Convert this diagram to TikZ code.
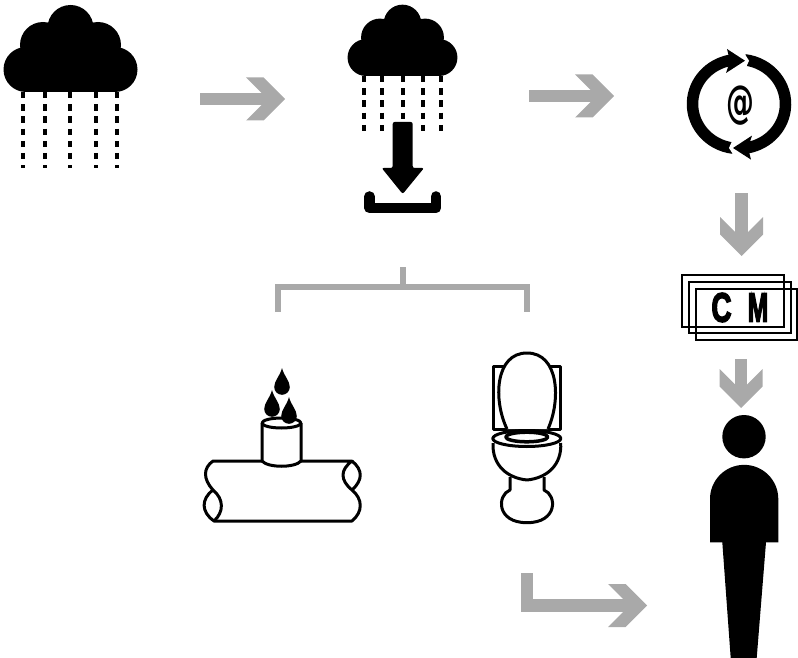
\documentclass[tikz,border=0pt]{standalone}
\usepackage{fontspec}
\usetikzlibrary{arrows.meta, positioning, calc}
\newfontfamily\cmfont[UprightFont=* Bold,FakeBold=4]{Liberation Sans}
\newfontfamily\atfont[UprightFont=* Bold]{DejaVu Sans}
\definecolor{kgrey}{HTML}{A9A9A9}
\definecolor{kblack}{HTML}{000000}
\pgfdeclarearrow{
  name=Chevron,
  setup code={
    \pgfarrowssettipend{0pt}
    \pgfarrowssetlineend{-15pt}
    \pgfarrowssetvisualbackend{-17pt}
    \pgfarrowssetbackend{-39pt}
  },
  drawing code={
    \pgfpathmoveto{\pgfpoint{-39pt}{21.5pt}}
    \pgfpathlineto{\pgfpoint{-21.5pt}{21.5pt}}
    \pgfpathlineto{\pgfpoint{0pt}{0pt}}
    \pgfpathlineto{\pgfpoint{-21.5pt}{-21.5pt}}
    \pgfpathlineto{\pgfpoint{-39pt}{-21.5pt}}
    \pgfpathlineto{\pgfpoint{-17.5pt}{0pt}}
    \pgfpathclose
    \pgfusepathqfill
  }
}

\begin{document}
\begin{tikzpicture}[x=1pt, y=-1pt]

\tikzstyle{flow} = [-{Chevron}, draw=kgrey, line width=12.5pt]
\tikzstyle{branch} = [draw=kgrey, line width=6pt, miter limit=10]
\tikzstyle{rainline} = [draw=kblack, line width=4pt, dash pattern=on 6.5pt off 5.7pt]
\tikzstyle{icon} = [draw=kblack, line width=3pt, line join=round]
\tikzstyle{sheet} = [draw=kblack, line width=2.3pt]
\tikzstyle{ring} = [draw=kblack, line width=11.5pt]

\tikzset{
  cloudpic/.pic={
    \fill[kblack] (-44.5,-22.5) circle (22.5);
    \fill[kblack] (44.5,-22.5) circle (22.5);
    \fill[kblack] (-27.5,-47) circle (23);
    \fill[kblack] (27.5,-47) circle (23);
    \fill[kblack] (0,-64) circle (23);
    \fill[kblack] (-44.5,-45) rectangle (44.5,0);
  },
  droppic/.pic={
    \fill[kblack] (0,-19) .. controls (2,-11) and (7.8,-6) .. (7.8,0)
      arc[start angle=0, end angle=180, radius=7.8]
      .. controls (-7.8,-6) and (-2,-11) .. (0,-19) -- cycle;
  }
}

\useasboundingbox (0,0) rectangle (798,658);

% Row 1
\pic at (70.5,92) {cloudpic};
\foreach \rainx in {23.3,45,70,95.7,117}
  \draw[rainline] (\rainx,92) -- (\rainx,168.5);

\coordinate (rainleft) at (200,99);
\coordinate (storeleft) at (285,99);
\draw[flow] (rainleft) -- (storeleft);

\pic[scale=.82] at (402.5,76) {cloudpic};
\foreach \rainx in {364,382,423.3,441.3}
  \draw[rainline] (\rainx,76) -- (\rainx,132);
\draw[rainline] (402.7,76) -- (402.7,119);

% Download
\fill[kblack, rounded corners=2pt] (392.7,122) -- (412.7,122) -- (412.7,168) -- (424,168)
  -- (402.7,194) -- (381.7,168) -- (392.7,168) -- cycle;
\draw[kblack, line width=10.6pt, line cap=round, line join=round]
  (369.5,196.5) -- (369.5,208) -- (436,208) -- (436,196.5);

\coordinate (storeright) at (529,96);
\coordinate (cycleleft) at (614,96);
\draw[flow] (storeright) -- (cycleleft);

% Cycle
\coordinate (cyclemid) at (739,104);
\draw[ring] (cyclemid) ++(97:46.5 and 44.5) arc[start angle=97, end angle=264, x radius=46.5, y radius=44.5];
\draw[ring] (cyclemid) ++(277:46.5 and 44.5) arc[start angle=277, end angle=444, x radius=46.5, y radius=44.5];
\fill[white] (741,48) -- (749,60.7) -- (744,72) -- (736,72) -- (736,48) -- cycle;
\fill[white] (737,160.6) -- (729,148) -- (734,136.6) -- (742,136.6) -- (742,160.6) -- cycle;
\fill[kblack] (745,60.7) -- (727,49) -- (730,61) -- (726,73) -- cycle;
\fill[kblack] (733,148) -- (751,159.6) -- (748,147.6) -- (752,135.6) -- cycle;
\node[font=\atfont\fontsize{45}{45}\selectfont, xscale=.62, inner sep=0pt] (atsign) at (740.2,105.5) {@};

\coordinate (cycledown) at (741.5,193);
\coordinate (cashup) at (741.5,256);
\draw[flow] (cycledown) -- (cashup);

% Cash
\draw[sheet] (682,275) rectangle (784,327);
\draw[sheet] (689,282) rectangle (791,333);
\draw[sheet] (696,289) rectangle (797,340);
\node[font=\cmfont\fontsize{41}{41}\selectfont, xscale=.68, inner sep=0pt] (cashc) at (721.5,307.5) {C};
\node[font=\cmfont\fontsize{41}{41}\selectfont, xscale=.6, inner sep=0pt] (cashm) at (758,307.5) {M};

\coordinate (cashdown) at (741,359);
\coordinate (headup) at (741,408);
\draw[flow] (cashdown) -- (headup);

% Person
\fill[kblack] (744,436.7) circle (21.7);
\fill[kblack] (710,542.3) -- (710,499) arc[start angle=180, end angle=360, radius=34.15]
  -- (778.3,542.3) -- (766,542.3) -- (756.7,658) -- (730.7,658) -- (722.3,542.3) -- cycle;

% Branch
\coordinate (branchtop) at (403,267);
\coordinate (branchmid) at (403,287);
\coordinate (branchleft) at (278,312);
\coordinate (branchright) at (527,312);
\draw[branch] (branchtop) -- (branchmid);
\draw[branch] (branchleft) |- (branchmid) -| (branchright);

% Pipe
\draw[icon] (262,461) -- (213,461) .. controls (203,468) and (203,479) .. (213,490)
  .. controls (201,499) and (201,512) .. (214,521) -- (352,521)
  .. controls (363,512) and (363,499) .. (352,490)
  .. controls (340,480) and (340,470) .. (352,461) -- (301,461);
\draw[icon] (213,490) .. controls (224,499) and (224,512) .. (214,521);
\draw[icon] (352,461) .. controls (363,470) and (363,480) .. (352,490);
\draw[icon] (262,423) -- (262,461) .. controls (268,468) and (295,468) .. (301,461) -- (301,423);
\draw[icon] (281.5,423) ellipse [x radius=19.5, y radius=5];
\pic at (282,387) {droppic};
\pic at (272,409) {droppic};
\pic at (289,416) {droppic};

% Toilet
\draw[icon] (493,366.7) rectangle (560.7,429);
\draw[icon, fill=white] (507,429) .. controls (493,400) and (495,353) .. (527,353)
  .. controls (559,353) and (561,400) .. (548,429);
\draw[icon] (493,443) .. controls (492,465) and (507,478) .. (527,480)
  .. controls (547,478) and (562,465) .. (560.7,443);
\draw[icon, fill=white] (526.8,438.5) ellipse [x radius=34, y radius=8];
\draw[icon, line width=3.5pt] (526.8,437) ellipse [x radius=21, y radius=4.8];
\draw[icon] (510,477) -- (510,490) .. controls (497,495) and (496,522.7) .. (527,522.7)
  .. controls (558,522.7) and (557,495) .. (544,490) -- (544,477);

% Bottom arrow
\coordinate (elbowtop) at (527,573);
\coordinate (elbowend) at (647,605.5);
\draw[flow, miter limit=10] (elbowtop) |- (elbowend);

\end{tikzpicture}
\end{document}
